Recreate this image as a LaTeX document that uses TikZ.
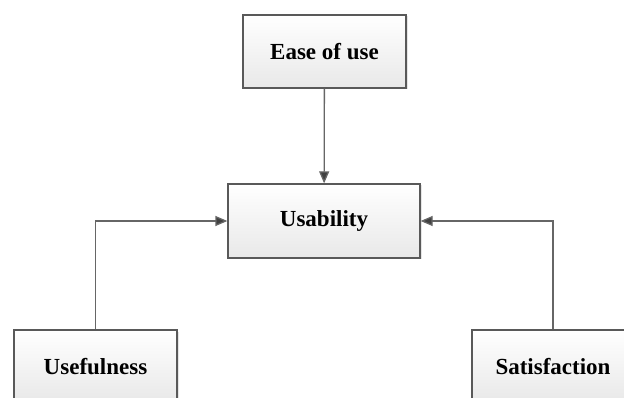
\documentclass[tikz,border=0pt]{standalone}
\usepackage{fontspec}
\setmainfont{Liberation Serif}
\usepackage{xcolor}
\usetikzlibrary{arrows.meta,shadows}

\tikzset{
	factor/.style={draw=black!65, line width=1.3pt, top color=white, bottom color=black!9,
		drop shadow={shadow xshift=1.5pt, shadow yshift=-1.5pt, opacity=0.25, fill=black!40},
		minimum width=163pt, minimum height=73pt, inner sep=0pt,
		font=\fontsize{23}{27}\selectfont\bfseries},
	link/.style={draw=black!60, line width=1.3pt, -{Triangle[length=12pt,width=10pt,fill=black!75]}}
}

\begin{document}
\begin{tikzpicture}[x=1pt, y=1pt]
		\useasboundingbox (0,0) rectangle (624,-398);
		\clip (0,0) rectangle (624,-398);
		\node[factor] (ease) at (324.5,-51.5) {Ease of use};
		\node[factor, minimum width=192pt, minimum height=74pt] (usability) at (324,-221) {Usability};
		\node[factor] (usefulness) at (95.5,-366.5) {Usefulness};
		\node[factor, minimum width=162pt] (satisfaction) at (553,-366.5) {Satisfaction};
		
		\draw[link] (ease) -- (usability);
		\draw[link] (usefulness.north) |- (usability.west);
		\draw[link] (satisfaction.north) |- (usability.east);
		
	\end{tikzpicture}
\end{document}
